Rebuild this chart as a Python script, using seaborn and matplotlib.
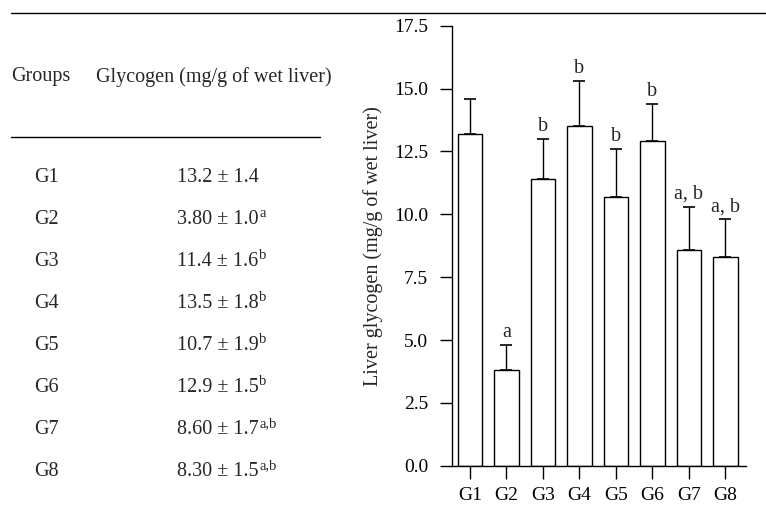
#!/usr/bin/env python3

import numpy as np
import pandas as pd
import matplotlib
matplotlib.use('Agg')
import matplotlib.pyplot as plt
from matplotlib.lines import Line2D
import seaborn as sns

groups = ['G1', 'G2', 'G3', 'G4', 'G5', 'G6', 'G7', 'G8']
glycogen = [13.2, 3.80, 11.4, 13.5, 10.7, 12.9, 8.60, 8.30]
glycogen_sd = [1.4, 1.0, 1.6, 1.8, 1.9, 1.5, 1.7, 1.5]
letters = ['', 'a', 'b', 'b', 'b', 'b', 'a,b', 'a,b']
y_ticks = [0.0, 2.5, 5.0, 7.5, 10.0, 12.5, 15.0, 17.5]

FS = 14.5


def main():
    sns.set_style('ticks')
    plt.rcParams['font.family'] = ['Liberation Serif', 'DejaVu Serif']

    df = pd.DataFrame({'group': groups, 'glycogen': glycogen,
                       'sd': glycogen_sd})

    fig = plt.figure(figsize=(7.66, 5.11), dpi=100)
    ax = fig.add_axes([0.590, 0.0886, 0.384, 0.861])

    sns.barplot(data=df, x='group', y='glycogen', color='white',
                saturation=1, edgecolor='black', linewidth=1.0,
                width=0.67, errorbar=None, ax=ax)
    x = np.arange(len(groups))
    ax.errorbar(x, df['glycogen'], yerr=[np.zeros(len(groups)), df['sd']],
                fmt='none', ecolor='black', elinewidth=1.0, capsize=4,
                capthick=1.2)

    # significance letters above error bars
    for xi, m, s, lab in zip(x, glycogen, glycogen_sd, letters):
        if lab:
            ax.annotate(lab.replace(',', ', '), (xi, m + s),
                        xytext=(0, 2), textcoords='offset points',
                        ha='center', va='bottom', fontsize=FS)

    ax.set_xlim(-0.49, 7.57)
    ax.set_ylim(0, 17.5)
    ax.set_yticks(y_ticks)
    ax.set_yticklabels([f'{t:.1f}' for t in y_ticks])
    ax.set_xlabel('')
    ax.set_ylabel('Liver glycogen (mg/g of wet liver)', fontsize=FS,
                  labelpad=8)
    ax.tick_params(axis='both', direction='out', length=9, width=1.0,
                   color='black', labelsize=14, labelcolor='black')
    ax.tick_params(axis='y', pad=8)
    ax.tick_params(axis='x', pad=6)
    sns.despine(ax=ax)
    for sp in ['left', 'bottom']:
        ax.spines[sp].set_color('black')
        ax.spines[sp].set_linewidth(1.0)

    # table on the left
    fig.add_artist(Line2D([11 / 766, 1.0], [1 - 13 / 511, 1 - 13 / 511],
                          color='black', linewidth=1.0))
    fig.add_artist(Line2D([11 / 766, 320 / 766], [1 - 137 / 511, 1 - 137 / 511],
                          color='black', linewidth=1.0))
    fig.text(11 / 766, 1 - 77 / 511, 'Groups', fontsize=FS, va='center')
    fig.text(96 / 766, 1 - 77 / 511, 'Glycogen (mg/g of wet liver)',
             fontsize=FS, va='center')
    for i, (g, m, s, lab) in enumerate(zip(groups, glycogen, glycogen_sd,
                                           letters)):
        yy = 1 - (178 + 42 * i) / 511
        fig.text(34 / 766, yy, g, fontsize=FS, va='center')
        t = fig.text(177 / 766, yy, f'{m:#.3g} ± {s:.1f}', fontsize=FS,
                     va='center')
        if lab:
            # superscript letters right after the value
            ax.annotate(lab, xy=(1.0, 0.5), xycoords=t,
                        xytext=(0.5, 0), textcoords='offset points',
                        fontsize=10.5, ha='left', va='bottom',
                        annotation_clip=False)

    fig.savefig('out.png', dpi=100, facecolor='white')
    plt.close(fig)


if __name__ == '__main__':
    main()
